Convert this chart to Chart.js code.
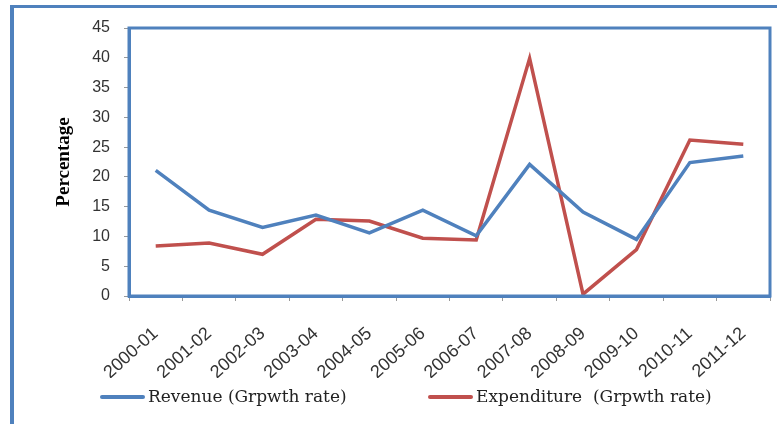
<!DOCTYPE html>
<html>
<head>
<meta charset="utf-8">
<script src="https://cdn.jsdelivr.net/npm/chart.js@4.4.1/dist/chart.umd.min.js"></script>
<style>
  html, body { margin: 0; padding: 0; background: #fff; }
  #wrap { position: relative; width: 777px; height: 424px; overflow: hidden; }
  #frame {
    position: absolute; left: 10px; top: 5px; width: 800px; height: 500px;
    border-left: 4px solid #4F81BD; border-top: 3px solid #4F81BD;
    pointer-events: none;
  }
  canvas { position: absolute; left: 0; top: 0; }
  #legend { position: absolute; left: 0; top: 383px; width: 777px; height: 26px;
            font-family: 'DejaVu Serif', serif; font-size: 17px; color: #222; }
  .item { position: absolute; top: 0; height: 26px; line-height: 26px; white-space: pre; }
  .swatch { display: inline-block; width: 45px; height: 4px; vertical-align: middle;
            margin-right: 3px; border-radius: 2px; position: relative; top: -1px; }
</style>
</head>
<body>
<div id="wrap">
  <canvas id="chart" width="777" height="424"></canvas>
  <div id="legend"></div>
  <div id="frame"></div>
</div>
<script>
// values
const years = ['2000-01', '2001-02', '2002-03', '2003-04', '2004-05', '2005-06',
               '2006-07', '2007-08', '2008-09', '2009-10', '2010-11', '2011-12'];
const revenueGrowth = [21.1, 14.4, 11.5, 13.6, 10.6, 14.4, 10.1, 22.1, 14.1, 9.5, 22.4, 23.5];
const expenditureGrowth = [8.4, 8.9, 7.0, 12.9, 12.6, 9.7, 9.4, 39.9, 0.3, 7.8, 26.2, 25.5];

const blue = '#4F81BD';
const red = '#C0504D';

// blue box round the plot area
const plotBox = {
    id: 'plotBox',
    afterDatasetsDraw(chart) {
        const a = chart.chartArea;
        const ctx = chart.ctx;
        ctx.save();
        ctx.strokeStyle = blue;
        ctx.lineWidth = 3;
        ctx.strokeRect(a.left, a.top, a.right - a.left, a.bottom - a.top);
        ctx.restore();
    }
};

const ctx = document.getElementById('chart').getContext('2d');
const chart = new Chart(ctx, {
    type: 'line',
    data: {
        labels: years,
        datasets: [{
            label: 'Revenue (Grpwth rate)',
            data: revenueGrowth,
            borderColor: blue,
            backgroundColor: blue,
            borderWidth: 3.5,
            pointRadius: 0,
            tension: 0,
            fill: false
        }, {
            label: 'Expenditure  (Grpwth rate)',
            data: expenditureGrowth,
            borderColor: red,
            backgroundColor: red,
            borderWidth: 3.5,
            pointRadius: 0,
            tension: 0,
            fill: false
        }]
    },
    options: {
        responsive: false,
        animation: false,
        layout: { padding: { top: 28, right: 7, left: 35, bottom: 46 } },
        plugins: {
            tooltip: { enabled: false },
            legend: { display: false }
        },
        scales: {
            x: {
                offset: true,
                grid: { drawOnChartArea: false, offset: true, tickLength: 5, color: '#999' },
                border: { color: blue, width: 3 },
                ticks: {
                    minRotation: 42,
                    maxRotation: 42,
                    padding: 22,
                    color: '#333',
                    font: { family: 'Liberation Sans', size: 18 }
                },
                afterFit(scale) {
                    scale.height = 82;
                    scale.paddingLeft = 0;
                    scale.paddingRight = 0;
                }
            },
            y: {
                min: 0,
                max: 45,
                ticks: {
                    stepSize: 5,
                    padding: 14,
                    color: '#333',
                    font: { family: 'Liberation Sans', size: 16 }
                },
                grid: { drawOnChartArea: false, tickLength: 5, color: '#999' },
                border: { color: blue, width: 3 },
                title: {
                    display: true,
                    text: 'Percentage',
                    color: '#000',
                    padding: { top: 18, bottom: 0 },
                    font: { family: 'Liberation Serif', size: 19, weight: 'bold' }
                },
                afterFit(scale) { scale.width = 94; }
            }
        }
    },
    plugins: [plotBox]
});

// html legend built from the datasets
const legendX = [100, 428];
const legendEl = document.getElementById('legend');
chart.data.datasets.forEach((ds, i) => {
    const item = document.createElement('div');
    item.className = 'item';
    item.style.left = legendX[i] + 'px';
    const sw = document.createElement('span');
    sw.className = 'swatch';
    sw.style.background = ds.borderColor;
    item.appendChild(sw);
    item.appendChild(document.createTextNode(ds.label));
    legendEl.appendChild(item);
});
</script>
</body>
</html>
